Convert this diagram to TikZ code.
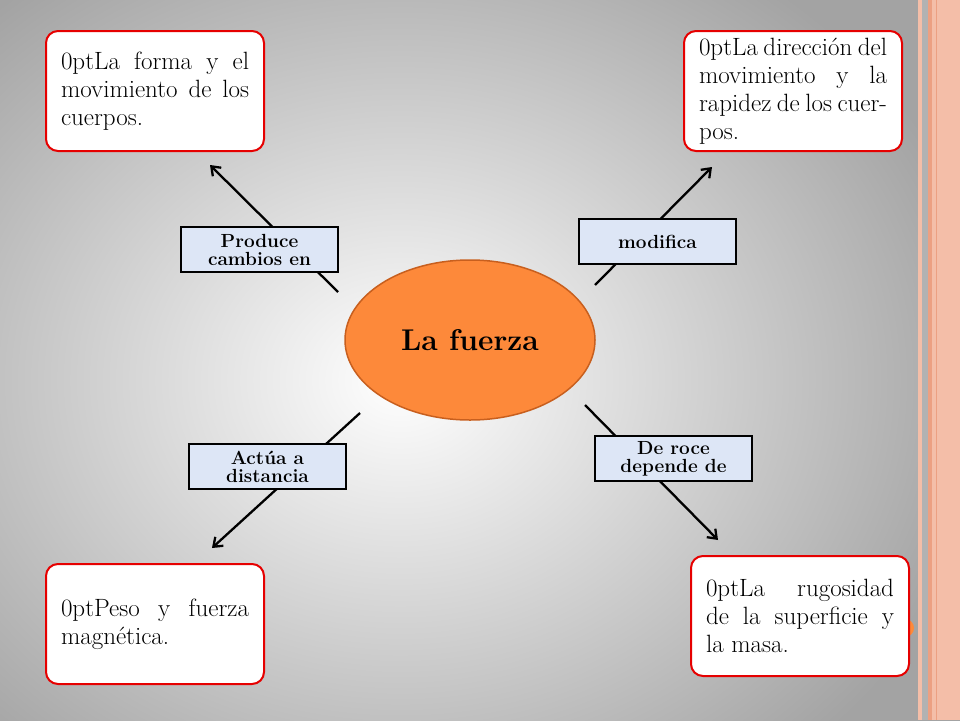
\documentclass[tikz,border=0pt]{standalone}
\usepackage{fontspec}
\usetikzlibrary{arrows.meta,shapes.geometric}
\definecolor{pinkst}{RGB}{244,190,168}
\definecolor{pinkdk}{RGB}{236,160,130}
\definecolor{orng}{RGB}{253,137,58}
\definecolor{orngdk}{RGB}{200,95,30}
\definecolor{lblue}{RGB}{221,230,246}
\definecolor{bred}{RGB}{230,0,0}
\begin{document}
\begin{tikzpicture}[x=1pt,y=-1pt,
  txtbox/.style={draw=bred,line width=2pt,rounded corners=12pt,fill=white,minimum width=218pt,minimum height=120pt,anchor=north west,align=justify,text width=188pt,font=\fontsize{25}{28}\selectfont\hyphenpenalty=10000\relax},
  lbl/.style={draw=black,line width=2pt,fill=lblue,minimum width=157pt,minimum height=45pt,anchor=north west,align=center,font=\bfseries\fontsize{19}{18}\selectfont,inner sep=1pt},
  arr/.style={line width=2.3pt,-{Straight Barb[length=8pt,width=12pt]}}]
\useasboundingbox (0,0) rectangle (960,720);
\shade[inner color=white,outer color=black!36] (-200,-120) rectangle (1000,880);
\fill[pinkst] (918,0) rectangle (960,720);
\fill[black!30] (922,0) rectangle (928,720);
\fill[pinkdk] (928,0) rectangle (932,720);
\draw[pinkdk,line width=0.8pt] (936,0) -- (936,720);
\fill[orng] (905,628) circle (9);
\node[ellipse,draw=orngdk,line width=1.5pt,fill=orng,minimum width=250pt,minimum height=160pt,font=\bfseries\fontsize{30}{34}\selectfont] (c) at (470,340) {La fuerza};
\node[txtbox] (tl) at (45,30) {La forma y el movimiento de los cuerpos.};
\node[txtbox] (tr) at (683,30) {La dirección del movimiento y la rapidez de los cuerpos.};
\node[txtbox] (bl) at (45,563) {Peso y fuerza magnética.};
\node[txtbox] (br) at (690,555) {La rugosidad de la superficie y la masa.};
\coordinate (a1s) at (338,292); \coordinate (a1e) at (210,165);
\coordinate (a2s) at (595,285); \coordinate (a2e) at (712,167);
\coordinate (a3s) at (360,413); \coordinate (a3e) at (212,548);
\coordinate (a4s) at (585,405); \coordinate (a4e) at (718,540);
\draw[arr] (a1s) -- (a1e);
\draw[arr] (a2s) -- (a2e);
\draw[arr] (a3s) -- (a3e);
\draw[arr] (a4s) -- (a4e);
\node[lbl] (l1) at (180,226) {Produce\\cambios en};
\node[lbl] (l2) at (578,218) {modifica};
\node[lbl] (l3) at (188,443) {Actúa a\\distancia};
\node[lbl] (l4) at (594,435) {De roce\\depende de};
\end{tikzpicture}
\end{document}
